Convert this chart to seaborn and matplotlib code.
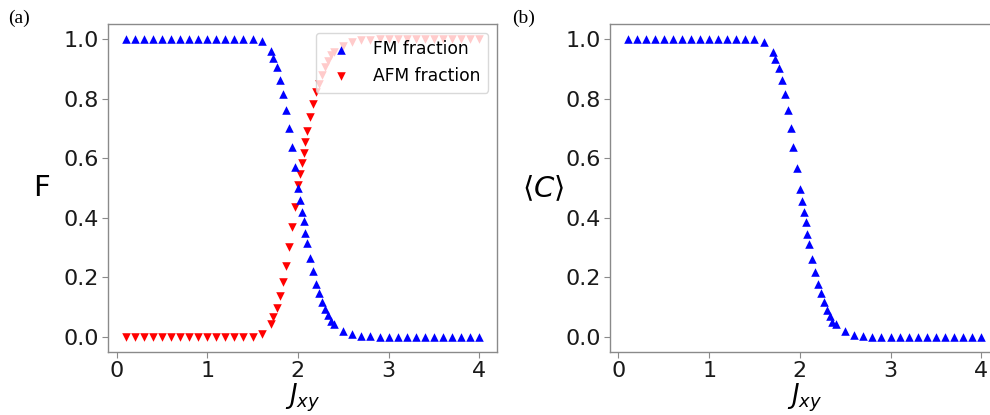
import numpy as np
import pandas as pd
import matplotlib
matplotlib.use('Agg')
import matplotlib.pyplot as plt
import seaborn as sns

# J_xy grid (coarse, then dense around the transition)
j_xy = [0.1, 0.2, 0.3, 0.4, 0.5, 0.6, 0.7, 0.8, 0.9, 1.0, 1.1, 1.2, 1.3, 1.4, 1.5, 1.6,
        1.70, 1.73, 1.77, 1.80, 1.84, 1.87, 1.90, 1.93, 1.97, 2.00, 2.02, 2.05,
        2.07, 2.08, 2.10, 2.13, 2.17, 2.20, 2.23, 2.27, 2.30, 2.33, 2.36, 2.40,
        2.5, 2.6, 2.7, 2.8, 2.9, 3.0, 3.1, 3.2, 3.3, 3.4, 3.5, 3.6, 3.7, 3.8, 3.9, 4.0]

fm_fraction = [1.0] * 15 + [0.992,
               0.958, 0.936, 0.905, 0.864, 0.816, 0.762, 0.702, 0.636, 0.570, 0.500,
               0.460, 0.421, 0.388, 0.350, 0.315, 0.265, 0.221, 0.179, 0.149, 0.119,
               0.093, 0.073, 0.054, 0.044,
               0.021, 0.010, 0.004, 0.002, 0.001] + [0.0] * 11

afm_fraction = [0.0] * 15 + [0.011,
                0.044, 0.067, 0.097, 0.136, 0.186, 0.239, 0.302, 0.369, 0.436, 0.509,
                0.547, 0.583, 0.619, 0.653, 0.692, 0.739, 0.783, 0.822, 0.850, 0.880,
                0.906, 0.926, 0.945, 0.956,
                0.978, 0.990, 0.996, 0.998, 0.999] + [1.0] * 11

mean_c = [1.0] * 15 + [0.989,
          0.955, 0.933, 0.902, 0.861, 0.814, 0.761, 0.700, 0.636, 0.567, 0.497,
          0.458, 0.419, 0.386, 0.347, 0.313, 0.263, 0.219, 0.178, 0.147, 0.117,
          0.091, 0.069, 0.052, 0.044,
          0.020, 0.008, 0.003, 0.001, 0.0005] + [0.0] * 11

x_ticks = [0, 1, 2, 3, 4]
y_ticks = [0.0, 0.2, 0.4, 0.6, 0.8, 1.0]

df = pd.DataFrame({'J': j_xy, 'FM': fm_fraction, 'AFM': afm_fraction, 'C': mean_c})

plt.rcParams['axes.edgecolor'] = '#8a8a8a'
plt.rcParams['xtick.color'] = '#8a8a8a'
plt.rcParams['ytick.color'] = '#8a8a8a'
plt.rcParams['xtick.labelcolor'] = '#1a1a1a'
plt.rcParams['ytick.labelcolor'] = '#1a1a1a'

fig = plt.figure(figsize=(9.9, 4.15), dpi=100)
ax_a = fig.add_axes([0.109, 0.152, 0.393, 0.790])
ax_b = fig.add_axes([0.616, 0.152, 0.393, 0.790])

sns.scatterplot(data=df, x='J', y='FM', marker='^', color='blue', s=38,
                linewidth=0, ax=ax_a, label='FM fraction', zorder=3)
sns.scatterplot(data=df, x='J', y='AFM', marker='v', color='red', s=38,
                linewidth=0, ax=ax_a, label='AFM fraction', zorder=2)
sns.scatterplot(data=df, x='J', y='C', marker='^', color='blue', s=38,
                linewidth=0, ax=ax_b, legend=False)

leg = ax_a.legend(loc='upper right', fontsize=12.3, framealpha=0.8,
                  edgecolor='#d0d0d0', handletextpad=0.9, borderpad=0.45)
leg.set_zorder(5)

for ax, ylab in [(ax_a, 'F'), (ax_b, r'$\langle C\rangle$')]:
    ax.set_xticks(x_ticks)
    ax.set_yticks(y_ticks)
    ax.set_xlim(-0.095, 4.195)
    ax.set_ylim(-0.05, 1.05)
    ax.tick_params(labelsize=16, length=4, pad=2.5)
    ax.set_xlabel(r'$J_{xy}$', fontsize=18.5, labelpad=0.5)
    ax.set_ylabel(ylab, fontsize=21, rotation=0, labelpad=16, va='center')
    for sp in ax.spines.values():
        sp.set_linewidth(1.0)

fig.text(0.008, 0.957, '(a)', fontsize=14, family='Liberation Serif', va='center')
fig.text(0.517, 0.957, '(b)', fontsize=14, family='Liberation Serif', va='center')

fig.savefig('out.png', dpi=100)
